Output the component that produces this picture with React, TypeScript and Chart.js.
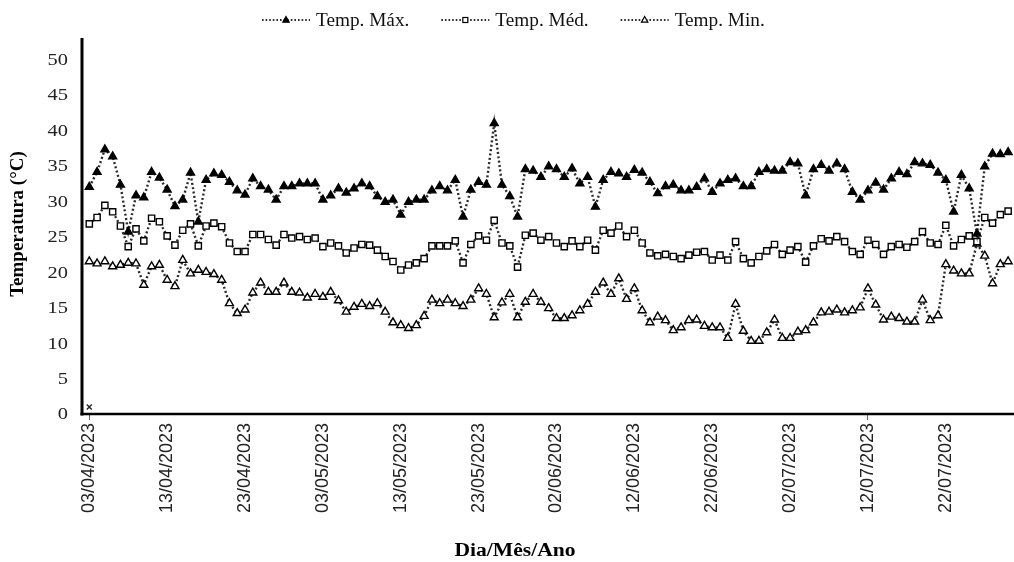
import React, { useEffect, useRef } from "react";
import { Chart, registerables } from "chart.js";

Chart.register(...registerables);

const startDate = [2023, 3, 3]; // 03/04/2023 (month 0-based)
const dayCount = 119;

const maxTemp = [
  32.0, 34.1, 37.3, 36.3, 32.3, 25.7, 30.8, 30.5, 34.1, 33.3,
  31.6, 29.3, 30.2, 34.0, 27.1, 33.0, 33.9, 33.7, 32.7, 31.5,
  30.9, 33.2, 32.1, 31.6, 30.2, 32.1, 32.1, 32.5, 32.5, 32.5,
  30.2, 30.8, 31.8, 31.2, 31.8, 32.5, 32.1, 30.7, 29.9, 30.2,
  28.1, 29.9, 30.2, 30.2, 31.5, 32.1, 31.5, 33.0, 27.8, 31.6,
  32.7, 32.3, 41.0, 32.3, 30.7, 27.8, 34.5, 34.3, 33.4, 34.9,
  34.5, 33.4, 34.6, 32.5, 33.4, 29.2, 33.0, 34.1, 33.9, 33.4,
  34.4, 34.0, 32.7, 31.1, 32.1, 32.3, 31.5, 31.5, 32.0, 33.2,
  31.3, 32.5, 33.0, 33.2, 32.1, 32.1, 34.1, 34.5, 34.3, 34.3,
  35.5, 35.3, 30.8, 34.5, 35.1, 34.3, 35.3, 34.5, 31.3, 30.2,
  31.5, 32.6, 31.6, 33.2, 34.1, 33.8, 35.5, 35.3, 35.1, 34.0,
  33.0, 28.5, 33.7, 31.8, 25.4, 34.9, 36.7, 36.6, 36.9,
];

const medTemp = [
  26.8, 27.7, 29.4, 28.5, 26.5, 23.6, 26.1, 24.4, 27.6, 27.1,
  25.1, 23.8, 25.9, 26.8, 23.7, 26.5, 26.9, 26.4, 24.1, 22.9,
  22.9, 25.3, 25.3, 24.6, 23.8, 25.3, 24.8, 25.0, 24.6, 24.8,
  23.6, 24.1, 23.7, 22.7, 23.4, 23.9, 23.8, 23.1, 22.2, 21.5,
  20.3, 21.0, 21.3, 21.9, 23.7, 23.7, 23.7, 24.4, 21.3, 23.9,
  25.1, 24.5, 27.3, 24.1, 23.7, 20.7, 25.2, 25.5, 24.5, 25.0,
  24.1, 23.6, 24.4, 23.6, 24.5, 23.1, 25.9, 25.5, 26.5, 25.0,
  25.9, 24.1, 22.7, 22.3, 22.5, 22.2, 21.9, 22.4, 22.8, 22.9,
  21.7, 22.4, 21.7, 24.3, 21.9, 21.3, 22.2, 23.0, 23.9, 22.5,
  23.1, 23.6, 21.4, 23.7, 24.7, 24.4, 25.0, 24.3, 22.9, 22.5,
  24.5, 23.9, 22.5, 23.6, 23.9, 23.5, 24.3, 25.7, 24.1, 23.9,
  26.6, 23.7, 24.6, 25.1, 24.3, 27.7, 26.9, 28.1, 28.6,
];

const minTemp = [
  21.5, 21.2, 21.5, 20.8, 21.0, 21.3, 21.2, 18.2, 20.8, 21.0,
  18.9, 18.0, 21.7, 19.8, 20.3, 20.0, 19.7, 18.9, 15.6, 14.2,
  14.7, 17.1, 18.5, 17.2, 17.2, 18.5, 17.2, 17.1, 16.4, 16.9,
  16.5, 17.2, 16.0, 14.4, 15.1, 15.5, 15.2, 15.6, 14.4, 12.9,
  12.5, 12.1, 12.5, 13.8, 16.1, 15.6, 16.1, 15.6, 15.2, 16.1,
  17.7, 16.9, 13.6, 15.7, 16.9, 13.6, 15.8, 16.9, 15.8, 14.9,
  13.5, 13.5, 13.9, 14.6, 15.5, 17.2, 18.5, 16.9, 19.1, 16.2,
  17.7, 14.6, 12.9, 13.7, 13.2, 11.8, 12.2, 13.2, 13.3, 12.4,
  12.2, 12.2, 10.7, 15.5, 11.7, 10.3, 10.3, 11.5, 13.3, 10.7,
  10.7, 11.6, 11.8, 12.9, 14.3, 14.4, 14.7, 14.3, 14.6, 15.0,
  17.7, 15.4, 13.3, 13.7, 13.5, 13.0, 13.0, 16.1, 13.2, 13.9,
  21.1, 20.2, 19.8, 19.8, 24.0, 22.3, 18.4, 21.1, 21.5,
];

const strayPoint = [1.0];

const yTickValues = [0, 5, 10, 15, 20, 25, 30, 35, 40, 45, 50];
const seriesNames = ["Temp. Máx.", "Temp. Méd.", "Temp. Min."];
const xTitle = "Dia/Mês/Ano";
const yTitle = "Temperatura (°C)";

function buildLabels(): string[] {
  const out: string[] = [];
  for (let i = 0; i < dayCount; i++) {
    const d = new Date(startDate[0], startDate[1], startDate[2] + i);
    const dd = String(d.getDate()).padStart(2, "0");
    const mm = String(d.getMonth() + 1).padStart(2, "0");
    out.push(`${dd}/${mm}/${d.getFullYear()}`);
  }
  return out;
}

const LINE_COLOR = "#2a2a2a";
const DASH = [2, 2.4];

const decorPlugin = {
  id: "decor",
  afterDraw(chart: any) {
    const ctx = chart.ctx;
    const ds = chart.data.datasets;
    const area = chart.chartArea;
    const ys = chart.scales.y;
    ctx.save();

    // axis lines
    ctx.strokeStyle = "#000";
    ctx.lineWidth = 3;
    ctx.beginPath();
    ctx.moveTo(82, 38);
    ctx.lineTo(82, area.bottom + 1.5);
    ctx.stroke();
    ctx.lineWidth = 2.6;
    ctx.beginPath();
    ctx.moveTo(80.5, area.bottom);
    ctx.lineTo(1014, area.bottom);
    ctx.stroke();

    // y tick labels
    ctx.fillStyle = "#222";
    ctx.font = "17px 'Liberation Serif'";
    ctx.textAlign = "right";
    ctx.textBaseline = "middle";
    yTickValues.forEach((v) => {
      const py = ys.getPixelForValue(v);
      ctx.save();
      ctx.translate(68, py + 1);
      ctx.scale(1.2, 1);
      ctx.fillText(String(v), 0, 0);
      ctx.restore();
    });

    // axis titles
    ctx.fillStyle = "#000";
    ctx.font = "bold 18px 'Liberation Serif'";
    ctx.textAlign = "center";
    ctx.save();
    ctx.translate(515, 551);
    ctx.scale(1.2, 1);
    ctx.fillText(xTitle, 0, 0);
    ctx.restore();
    ctx.save();
    ctx.translate(18, 224);
    ctx.rotate(-Math.PI / 2);
    ctx.font = "bold 19px 'Liberation Serif'";
    ctx.fillText(yTitle, 0, 0);
    ctx.restore();

    // legend
    ctx.font = "18px 'Liberation Serif'";
    ctx.textAlign = "left";
    const sx = 1.07;
    const sampleW = 48;
    const gapText = 6;
    const gapItem = 32;
    let x = 262;
    const y = 20;
    seriesNames.forEach((name, i) => {
      const d = ds[i];
      ctx.strokeStyle = LINE_COLOR;
      ctx.lineWidth = 2;
      ctx.setLineDash([1.6, 2]);
      ctx.beginPath();
      ctx.moveTo(x, y);
      ctx.lineTo(x + sampleW, y);
      ctx.stroke();
      ctx.setLineDash([]);
      ctx.fillStyle = d.pointBackgroundColor;
      ctx.strokeStyle = "#000";
      ctx.lineWidth = 1.2;
      const cx = x + sampleW / 2;
      if (d.pointStyle === "rect") {
        ctx.fillRect(cx - 2.5, y - 2.5, 5, 5);
        ctx.strokeRect(cx - 2.5, y - 2.5, 5, 5);
      } else {
        ctx.beginPath();
        ctx.moveTo(cx, y - 3.5);
        ctx.lineTo(cx + 3.2, y + 2.2);
        ctx.lineTo(cx - 3.2, y + 2.2);
        ctx.closePath();
        ctx.fill();
        ctx.stroke();
      }
      ctx.fillStyle = "#111";
      const tx = x + sampleW + gapText;
      ctx.save();
      ctx.translate(tx, y + 1);
      ctx.scale(sx, 1);
      ctx.fillText(name, 0, 0);
      ctx.restore();
      const tw = ctx.measureText(name).width * sx;
      x = tx + tw + gapItem;
    });
    ctx.restore();
  },
};

export default function App() {
  const canvasRef = useRef<HTMLCanvasElement | null>(null);

  useEffect(() => {
    document.body.style.margin = "0";
    const labels = buildLabels();
    const common = {
      borderColor: LINE_COLOR,
      borderWidth: 2.4,
      borderDash: DASH,
      pointBorderColor: "#000",
      pointBorderWidth: 1.4,
      pointRadius: 4.6,
      pointHoverRadius: 4.6,
      tension: 0,
      fill: false,
    };
    const chart = new Chart(canvasRef.current as HTMLCanvasElement, {
      type: "line",
      data: {
        labels,
        datasets: [
          {
            ...common,
            label: seriesNames[0],
            data: maxTemp,
            pointStyle: "triangle",
            pointBackgroundColor: "#000",
          },
          {
            ...common,
            label: seriesNames[1],
            data: medTemp,
            pointStyle: "rect",
            pointRadius: 4.4,
            pointBackgroundColor: "#fff",
          },
          {
            ...common,
            label: seriesNames[2],
            data: minTemp,
            pointStyle: "triangle",
            pointBackgroundColor: "#fff",
          },
          {
            label: "",
            data: strayPoint,
            showLine: false,
            pointStyle: "crossRot",
            pointRadius: 3.5,
            pointBorderColor: "#222",
            pointBorderWidth: 1.4,
          },
        ] as any,
      },
      options: {
        animation: false,
        responsive: false,
        maintainAspectRatio: false,
        layout: { autoPadding: false, padding: { top: 38, left: 0, right: 2, bottom: 0 } },
        plugins: {
          legend: { display: false },
          tooltip: { enabled: false },
        },
        scales: {
          x: {
            type: "category",
            offset: true,
            grid: {
              display: true,
              drawOnChartArea: false,
              drawTicks: true,
              tickLength: 6,
              offset: false,
              color: (c: any) => (c.index % 10 === 0 ? "#666" : "rgba(0,0,0,0)"),
              lineWidth: 1,
            },
            border: { display: false },
            ticks: {
              autoSkip: false,
              minRotation: 90,
              maxRotation: 90,
              padding: 3,
              color: "#222",
              font: { family: "'Liberation Sans'", size: 18 },
              callback: (_v: any, i: number) => (i % 10 === 0 ? labels[i] : null),
            },
            title: { display: false },
            afterFit: (s: any) => {
              s.height = 148;
            },
          },
          y: {
            min: 0,
            max: 53,
            afterBuildTicks: (s: any) => {
              s.ticks = yTickValues.map((v) => ({ value: v }));
            },
            grid: { display: false, drawTicks: false },
            border: { display: false },
            ticks: { display: false },
            title: { display: false },
            afterFit: (s: any) => {
              s.width = 85.4;
            },
          },
        },
      } as any,
      plugins: [decorPlugin],
    });
    return () => chart.destroy();
  }, []);

  return (
    <div style={{ width: 1014, height: 562, background: "#fff", overflow: "hidden" }}>
      <canvas ref={canvasRef} width={1014} height={562} style={{ width: 1014, height: 562, display: "block" }} />
    </div>
  );
}
